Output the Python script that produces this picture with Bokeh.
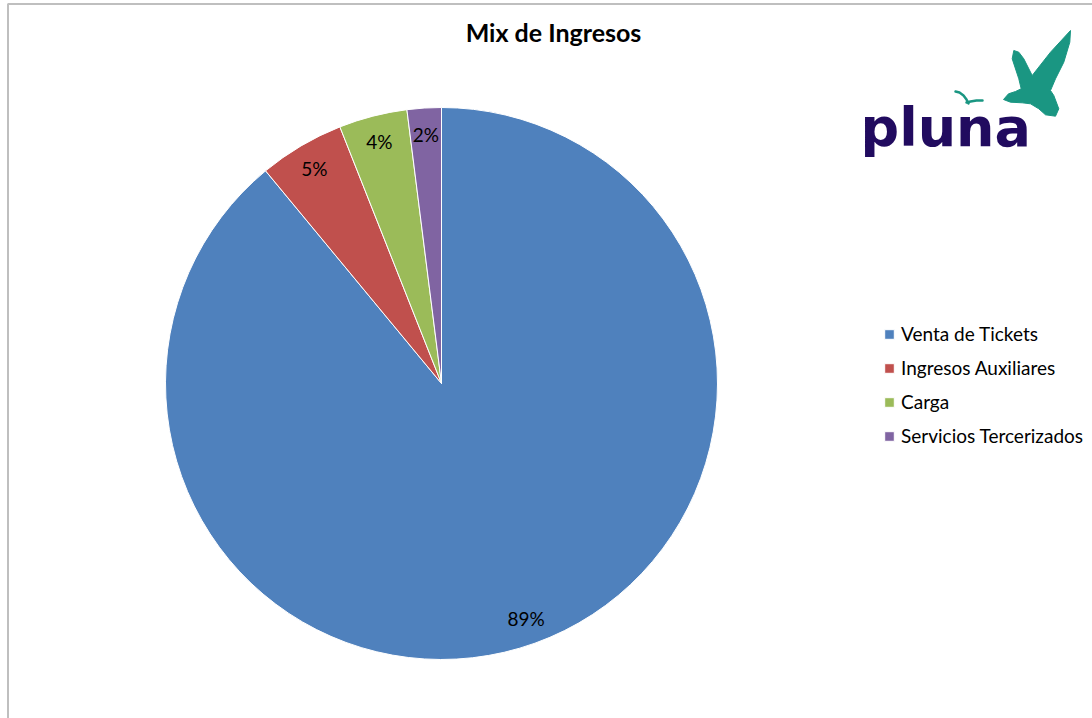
import numpy as np
from bokeh.plotting import figure, ColumnDataSource
from bokeh.models import Range1d, Legend, LegendItem
from bokeh.core.properties import value
from bokeh.embed import file_html
from bokeh.resources import INLINE

# ---- data ----
categories = ["Venta de Tickets", "Ingresos Auxiliares", "Carga", "Servicios Tercerizados"]
shares = [89, 5, 4, 2]
labels = ["89%", "5%", "4%", "2%"]
colors = ["#4F81BD", "#C0504D", "#9BBB59", "#8064A2"]
title_text = "Mix de Ingresos"

W, H = 1092, 718
def sy(y):  # screen y (down) -> data y (up)
    return H - np.asarray(y, dtype=float)

p = figure(width=W, height=H, output_backend="svg", toolbar_location=None,
           x_range=Range1d(0, W), y_range=Range1d(0, H), min_border=0,
           background_fill_color="white", border_fill_color="white")
p.axis.visible = False
p.grid.visible = False
p.outline_line_color = None

# chart area border (top and left edges visible)
p.line(x=[7.5, 7.5, W + 5], y=sy([H + 5, 3.5, 3.5]), line_color="#BFBFBF", line_width=2)

# pie
cx, cy, R = 441.0, float(sy(383)), 276.0
frac = np.array(shares, dtype=float) / np.sum(shares)
cum_end = np.cumsum(frac)
cum_start = cum_end - frac
start = np.pi / 2 - 2 * np.pi * cum_end
end = np.pi / 2 - 2 * np.pi * cum_start
mid = (start + end) / 2
src = ColumnDataSource(dict(cat=categories, start=start, end=end, color=colors,
                            lx=cx + 0.905 * R * np.cos(mid), ly=cy + 0.905 * R * np.sin(mid),
                            lab=labels))
wr = p.wedge(x=cx, y=cy, radius=R, start_angle="start", end_angle="end",
             direction="anticlock", fill_color="color", line_color="white",
             line_width=1, source=src)
p.text(x="lx", y="ly", text="lab", source=src, text_align="center",
       text_baseline="middle", text_font=value("Lato"), text_font_size="19px",
       text_color="black")

# title
p.text(x=[553], y=sy([31]), text=[title_text], text_align="center", text_baseline="middle",
       text_font=value("Lato"), text_font_size="25px", text_font_style="bold",
       text_color="black")

# legend
items = [LegendItem(label=c, renderers=[wr], index=i) for i, c in enumerate(categories)]
legend = Legend(items=items, location=(883, 271), orientation="vertical",
                glyph_width=12, glyph_height=12, label_standoff=6,
                label_height=21, spacing=11, padding=0, margin=0,
                border_line_color=None, background_fill_alpha=0,
                label_text_font="Lato", label_text_font_size="19px",
                label_text_color="black")
p.add_layout(legend, "center")

# logo: pluna wordmark with birds (decoration)
p.text(x=[860], y=sy([127]), text=["pluna"], text_align="left", text_baseline="alphabetic",
       text_font=value("DejaVu Sans"), text_font_size="54px", text_font_style="bold",
       text_color="#210B5F")
big_bird_x = [1003, 1008, 1015, 1020.7, 1018.3, 1011.7, 1013.3, 1018.3, 1023.3, 1031.7,
              1050, 1070, 1069.3, 1063.3, 1055, 1050, 1053.3, 1058.3, 1055, 1045, 1038.3,
              1030, 1021.7, 1010]
big_bird_y = [99, 93.3, 91, 88.3, 78.3, 58.3, 50, 51.7, 58.3, 75, 51.7, 30, 41.7, 61.7,
              78.3, 90, 95, 108.3, 115.7, 114.3, 108.3, 103.3, 102.3, 101.7]
p.patch(x=big_bird_x, y=sy(big_bird_y), fill_color="#1A9682", line_color="#1A9682", line_width=1)
p.line(x=[955, 959, 963, 966, 968], y=sy([91, 92, 95, 99, 103]),
       line_color="#1A9682", line_width=2.5, line_cap="round")
p.line(x=[966, 970, 976, 982], y=sy([102, 101, 100, 100]),
       line_color="#1A9682", line_width=2.5, line_cap="round")

open("out.html", "w").write(file_html(p, INLINE))
